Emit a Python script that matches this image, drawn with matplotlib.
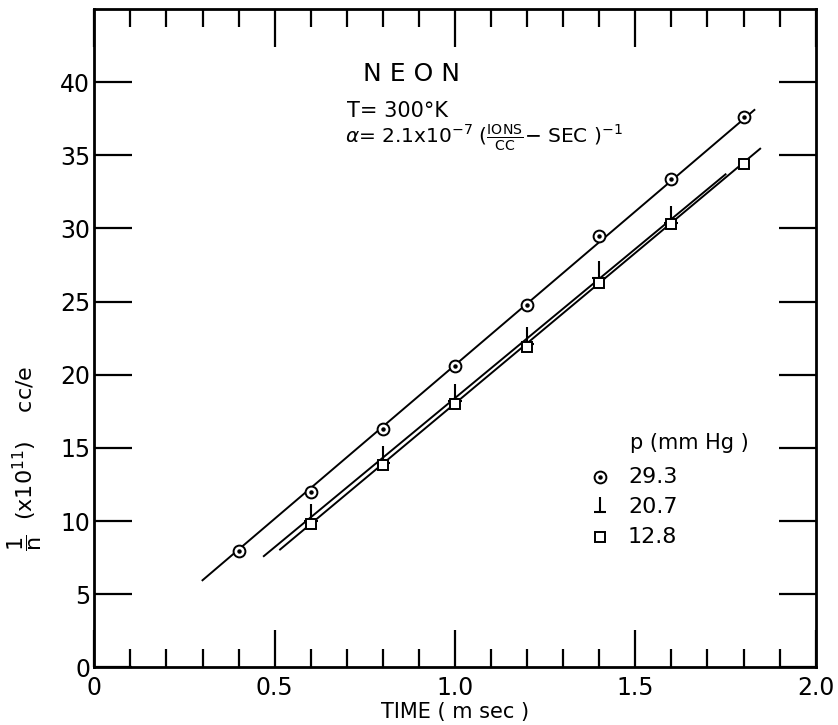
import numpy as np
import matplotlib
matplotlib.use('Agg')
import matplotlib.pyplot as plt
from matplotlib.path import Path
from matplotlib.ticker import MultipleLocator

plt.rcParams['font.family'] = ['DejaVu Sans']
plt.rcParams['mathtext.fontset'] = 'dejavusans'

# ── 讀圖估計的資料 ─────────────────────────────
t_293 = [0.4, 0.6, 0.8, 1.0, 1.2, 1.4, 1.6, 1.8]
y_293 = [7.95, 12.0, 16.3, 20.6, 24.8, 29.5, 33.4, 37.6]
t_207 = [0.6, 0.8, 1.0, 1.2, 1.4, 1.6]
y_207 = [10.4, 14.4, 18.6, 22.5, 27.0, 30.8]
t_128 = [0.6, 0.8, 1.0, 1.2, 1.4, 1.6, 1.8]
y_128 = [9.8, 13.8, 18.0, 21.9, 26.3, 30.3, 34.4]

# 擬合直線的兩端點
fit_x_293 = [0.30, 1.83]
fit_y_293 = [5.95, 38.1]
fit_x_207 = [0.47, 1.75]
fit_y_207 = [7.6, 33.7]
fit_x_128 = [0.515, 1.846]
fit_y_128 = [8.05, 35.45]

x_ticks = [0, 0.5, 1.0, 1.5, 2.0]
x_ticklabels = ['0', '0.5', '1.0', '1.5', '2.0']
y_ticks = [0, 5, 10, 15, 20, 25, 30, 35, 40]

W, H = 838, 725


def fx(x):
    return x / W


def fy(y):
    return 1 - y / H


# ⊥ 形標記
perp = Path([(0, -0.4), (0, 0.75), (-0.45, -0.4), (0.45, -0.4)],
            [Path.MOVETO, Path.LINETO, Path.MOVETO, Path.LINETO])

fig = plt.figure(figsize=(W / 100, H / 100), dpi=100)
ax = fig.add_axes([fx(94.3), fy(667.3), (815.7 - 94.3) / W, (667.3 - 9) / H])

lw = 1.4
ax.plot(fit_x_293, fit_y_293, color='black', lw=lw)
ax.plot(fit_x_207, fit_y_207, color='black', lw=lw)
ax.plot(fit_x_128, fit_y_128, color='black', lw=lw)

ax.plot(t_293, y_293, 'o', ms=8.5, mfc='white', mec='black', mew=1.4, zorder=3)
ax.plot(t_293, y_293, 'o', ms=2.2, color='black', zorder=4)
ax.plot(t_207, y_207, marker=perp, ls='none', ms=16, color='black', mew=1.5, zorder=3)
ax.plot(t_128, y_128, 's', ms=7.5, mfc='white', mec='black', mew=1.4, zorder=3)

ax.set_xlim(0, 2.0)
ax.set_ylim(0, 45)
ax.set_xticks(x_ticks)
ax.set_xticklabels(x_ticklabels)
ax.xaxis.set_minor_locator(MultipleLocator(0.1))
ax.set_yticks(y_ticks)
ax.tick_params(which='major', direction='in', top=True, right=True,
               length=27, width=1.6, labelsize=17, pad=6)
ax.tick_params(which='minor', direction='in', top=True, right=True,
               length=13, width=1.6)
ax.tick_params(axis='y', which='major', pad=3)
for s in ax.spines.values():
    s.set_linewidth(2)

ax.set_xlabel('TIME ( m sec )', fontsize=15, labelpad=2)
fig.text(fx(25), fy(458), r'$\dfrac{1}{\mathrm{n}}$  (x10$^{11}$)    cc/e',
         rotation=90, ha='center', va='center', fontsize=16)

# 標題與參數
fig.text(fx(363), fy(74), 'N E O N', fontsize=18, ha='left', va='center')
fig.text(fx(347), fy(111), 'T= 300°K', fontsize=15, ha='left', va='center')
fig.text(fx(345), fy(138),
         r'$\alpha$= 2.1x10$^{-7}$ ($\frac{\mathrm{IONS}}{\mathrm{CC}}$$-$ SEC )$^{-1}$',
         fontsize=14.5, ha='left', va='center')

# 圖例
fig.text(fx(630), fy(443), 'p (mm Hg )', fontsize=15, ha='left', va='center')
leg_y = [477, 507, 537]
leg_txt = ['29.3', '20.7', '12.8']
for yy, tt in zip(leg_y, leg_txt):
    fig.text(fx(628), fy(yy), tt, fontsize=16, ha='left', va='center')
mx, my = fx(600), [fy(v) for v in leg_y]
fig.lines.append(plt.Line2D([mx], [my[0]], marker='o', ms=8.5, mfc='white', mec='black',
                            mew=1.4, transform=fig.transFigure))
fig.lines.append(plt.Line2D([mx], [my[0]], marker='o', ms=2.2, color='black',
                            transform=fig.transFigure))
fig.lines.append(plt.Line2D([mx], [my[1]], marker=perp, ms=14, color='black', mew=1.5,
                            ls='none', transform=fig.transFigure))
fig.lines.append(plt.Line2D([mx], [my[2]], marker='s', ms=7.5, mfc='white', mec='black',
                            mew=1.4, transform=fig.transFigure))

fig.savefig('out.png', dpi=100)
